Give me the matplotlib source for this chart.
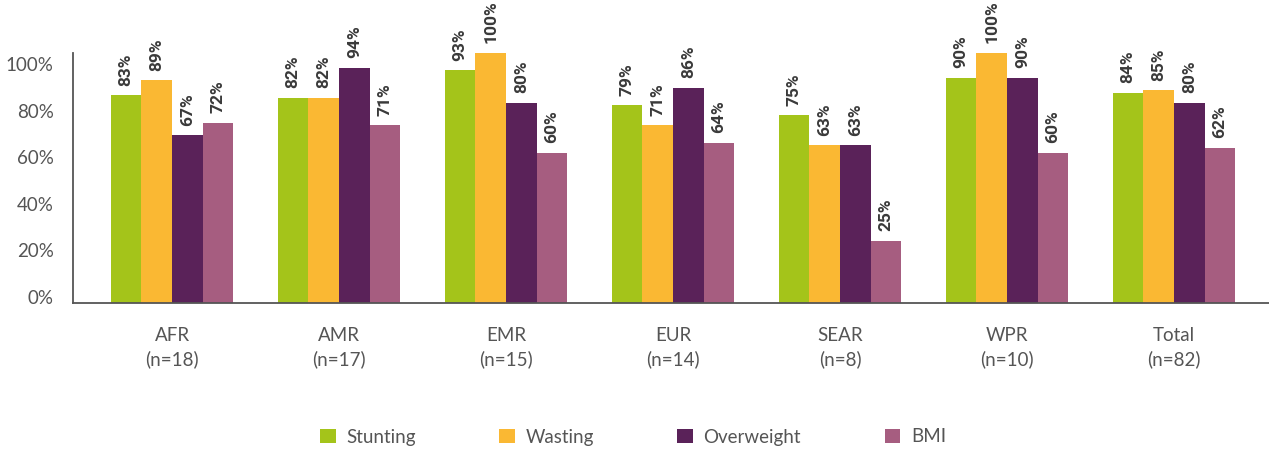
import numpy as np
import matplotlib
matplotlib.use("Agg")
import matplotlib.pyplot as plt

regions = ["AFR", "AMR", "EMR", "EUR", "SEAR", "WPR", "Total"]
counts = [18, 17, 15, 14, 8, 10, 82]
series_names = ["Stunting", "Wasting", "Overweight", "BMI"]
stunting = [83, 82, 93, 79, 75, 90, 84]
wasting = [89, 82, 100, 71, 63, 100, 85]
overweight = [67, 94, 80, 86, 63, 90, 80]
bmi = [72, 71, 60, 64, 25, 60, 62]
ytick_labels = ["0%", "20%", "40%", "60%", "80%", "100%"]

colors = ["#A4C41A", "#FAB833", "#5A2259", "#A65D80"]
series = [stunting, wasting, overweight, bmi]

fig = plt.figure(figsize=(12.69, 4.51), dpi=100)
ax = fig.add_axes([73/1269, 148/451, (1269-73)/1269, 250/451])

x = np.arange(len(regions))
w = 0.183
offsets = [-1.5, -0.5, 0.5, 1.5]
for vals, name, col, off in zip(series, series_names, colors, offsets):
    ax.bar(x + off*w, vals, width=w, color=col, label=name, linewidth=0)
    for xi, v in zip(x + off*w, vals):
        ax.annotate(f"{v}%", xy=(xi, v), xytext=(0, 7), textcoords="offset points",
                    rotation=90, ha="center", va="bottom", fontsize=12.5,
                    fontweight="bold", family="Roboto", color="#3a3a3a",
                    annotation_clip=False)

ax.set_xlim(-0.593, 6.569)
ax.set_ylim(0, 100)
ax.set_yticks(np.linspace(2.4, 95.6, 6))
ax.set_yticklabels(ytick_labels, fontsize=13.5, family="Lato", color="#555555")
ax.set_xticks(x)
ax.set_xticklabels([f"{r}\n(n={n})" for r, n in zip(regions, counts)],
                   fontsize=13.5, family="Lato", color="#555555", linespacing=1.45)
ax.tick_params(axis="y", length=0, pad=14)
ax.tick_params(axis="x", length=0, pad=17)
for s in ["top", "right"]:
    ax.spines[s].set_visible(False)
for s in ["left", "bottom"]:
    ax.spines[s].set_color("#555555")
    ax.spines[s].set_linewidth(1.3)

leg = fig.legend(loc="center", bbox_to_anchor=(633/1269, 14/451), ncol=4, frameon=False,
                 prop={"family": "Lato", "size": 13.5}, handlelength=0.85, handleheight=0.85,
                 handletextpad=0.55, columnspacing=4.45, labelcolor="#555555")

fig.savefig("out.png", dpi=100)
